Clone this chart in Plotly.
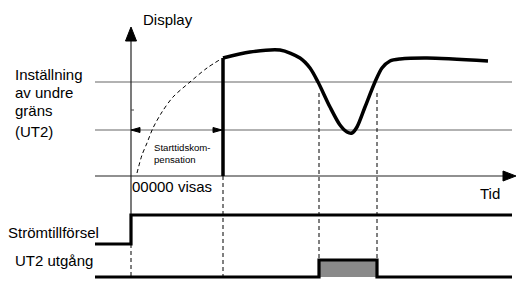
import plotly.graph_objects as go

# ---- diagram data (pixel-like coordinates of the schematic) ----
jump_x = [223, 223]
jump_y = [176, 58]

display_x = [223, 250, 280, 300, 310, 318, 330, 340, 347, 352, 357, 365, 375, 382, 390, 400, 427, 488]
display_y = [58, 52, 50, 58, 68, 82, 107, 125, 132, 133, 127, 107, 82, 68, 61, 59, 58, 61]

startup_x = [137, 142, 147, 153, 162, 173, 190, 207, 221]
startup_y = [173, 155, 143, 128, 112, 97, 82, 68, 59]

power_x = [95, 131, 131, 512]
power_y = [244, 244, 215, 215]

ut2_x = [95, 319, 319, 377, 377, 512]
ut2_y = [277, 277, 260, 260, 277, 277]

limit_levels = [82, 130]
time_axis_y = 176
value_axis_x = 131
dash_marks_x = [131, 223, 319, 377]
dash_marks_top = [244, 176, 93, 93]

labels_left = ["Inställning", "av undre", "gräns", "(UT2)"]
labels_left_y = [74, 92, 110, 131]

FONT = "Liberation Sans, Arial, Helvetica, sans-serif"

fig = go.Figure()

def line(x, y, color="black", width=1, dash=None, fill=None, fillcolor=None, shape="linear", smoothing=1):
    ld = dict(color=color, width=width, dash=dash, shape=shape)
    if shape == "spline":
        ld["smoothing"] = smoothing
    fig.add_trace(go.Scatter(x=x, y=y, mode="lines", hoverinfo="skip",
                             line=ld, fill=fill, fillcolor=fillcolor))

# gray limit lines
for ly in limit_levels:
    line([95, 512], [ly, ly], color="#666666", width=1.2)

# time axis and value axis
line([95, 504], [time_axis_y, time_axis_y], color="#222222", width=1.2)
line([value_axis_x, value_axis_x], [38, 215], color="#222222", width=1.2)
line([131, 134], [110, 110], color="#444444", width=1)

# dashed helper lines
for dx, top in zip(dash_marks_x, dash_marks_top):
    line([dx, dx], [top, 277], color="black", width=1, dash="4px,3px")

# startup dashed curve
line(startup_x, startup_y, color="black", width=1, dash="4px,3px", shape="spline", smoothing=0.8)

# display curve
line(jump_x, jump_y, color="black", width=3.5)
line(display_x, display_y, color="black", width=3.5, shape="spline", smoothing=0.8)

# power supply
line(power_x, power_y, color="black", width=3.2)

# UT2 output (with filled pulse)
line(ut2_x[1:5], ut2_y[1:5], color="black", width=0, fill="toself", fillcolor="#8a8a8a")
line(ut2_x, ut2_y, color="black", width=3.2)

# arrowheads as filled triangles
line([125.5, 131, 136.5, 125.5], [41, 27, 41, 41], color="black", width=1, fill="toself", fillcolor="black")
line([503, 516, 503, 503], [171, 176, 181, 171], color="black", width=1, fill="toself", fillcolor="black")
line([131, 140, 140, 131], [130, 127.5, 132.5, 130], color="black", width=1, fill="toself", fillcolor="black")
line([222, 213, 213, 222], [130, 127.5, 132.5, 130], color="black", width=1, fill="toself", fillcolor="black")

ann = []
def text(x, y, s, size=15, xanchor="left"):
    ann.append(dict(x=x, y=y, text=s, showarrow=False, xanchor=xanchor, yanchor="middle",
                    font=dict(family=FONT, size=size, color="black")))

text(141, 19, "Display")
for s, yy in zip(labels_left, labels_left_y):
    text(13, yy, s)
text(152, 147, "Starttidskom-", size=9.6)
text(152, 159, "pensation", size=9.6)
text(130, 186, "00000 visas")
text(478, 193, "Tid")
text(6, 232, "Strömtillförsel")
text(13, 260, "UT2 utgång")

fig.update_layout(
    width=516, height=281,
    margin=dict(l=0, r=0, t=0, b=0),
    paper_bgcolor="white", plot_bgcolor="white",
    showlegend=False,
    xaxis=dict(range=[0, 516], visible=False, fixedrange=True),
    yaxis=dict(range=[281, 0], visible=False, fixedrange=True),
    annotations=ann,
)

fig.write_html("out.html", config={"displayModeBar": False},
               post_script="document.body.style.margin='0';document.body.style.overflow='hidden';")
